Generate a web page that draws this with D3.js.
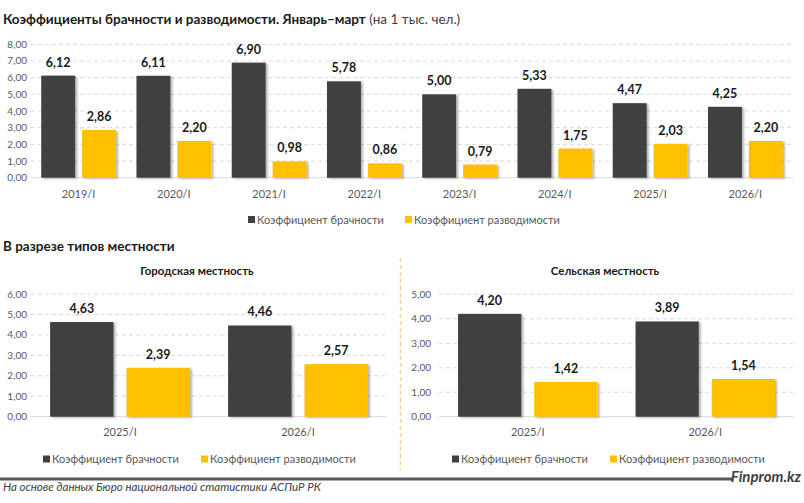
<!DOCTYPE html>
<html><head><meta charset="utf-8">
<script src="https://cdn.jsdelivr.net/npm/d3@7"></script>
<style>
body{margin:0;background:#fff;}
svg{display:block;font-family:Lato,"Open Sans",sans-serif;}
</style></head>
<body><svg id="c" width="804" height="503"></svg>
<script>
const topCategories = ["2019/I","2020/I","2021/I","2022/I","2023/I","2024/I","2025/I","2026/I"];
const topMarriage = [6.12,6.11,6.90,5.78,5.00,5.33,4.47,4.25];
const topDivorce = [2.86,2.20,0.98,0.86,0.79,1.75,2.03,2.20];
const topTicks = [0,1,2,3,4,5,6,7,8];

const urbanCategories = ["2025/I","2026/I"];
const urbanMarriage = [4.63,4.46];
const urbanDivorce = [2.39,2.57];
const urbanTicks = [0,1,2,3,4,5,6];

const ruralCategories = ["2025/I","2026/I"];
const ruralMarriage = [4.20,3.89];
const ruralDivorce = [1.42,1.54];
const ruralTicks = [0,1,2,3,4,5];

const seriesNames = ["Коэффициент брачности","Коэффициент разводимости"];
const colors = ["#404040","#FFC000"];

const svg = d3.select("#c");
const defs = svg.append("defs");
const f = defs.append("filter").attr("id","sh").attr("x","-20%").attr("y","-20%").attr("width","150%").attr("height","140%");
f.append("feDropShadow").attr("dx",2).attr("dy",1).attr("stdDeviation",1.3).attr("flood-color","#000").attr("flood-opacity",0.3);

const fmt = v => d3.format(".2f")(v).replace(".", ",");

function chart(cfg){
  const {cats, m, d, ticks, x0, x1, yTop, yBot, labelX, catY, legY, legX} = cfg;
  const y = d3.scaleLinear().domain([0, d3.max(ticks)]).range([yBot, yTop]);
  const xg = d3.scaleBand().domain(cats).range([x0, x1]).padding(0);
  const xs = d3.scaleBand().domain([0,1]).range([0, xg.bandwidth()]).paddingInner(0.17).paddingOuter(0.25);
  const g = svg.append("g");
  g.selectAll(".gl").data(ticks.filter(t=>t>0)).join("line")
    .attr("x1", x0).attr("x2", x1).attr("y1", t=>y(t)).attr("y2", t=>y(t))
    .attr("stroke","#d9d9d9").attr("stroke-dasharray","4,3").attr("stroke-width",1);
  g.append("line").attr("x1",x0).attr("x2",x1).attr("y1",y(0)).attr("y2",y(0)).attr("stroke","#d9d9d9");
  g.selectAll(".yt").data(ticks).join("text")
    .attr("x", labelX).attr("y", t=>y(t)).attr("dy","0.35em")
    .attr("text-anchor","end").attr("font-size",10).attr("fill","#595959").text(t=>fmt(t));
  const rows = cats.map((c,i)=>[{c,s:0,v:m[i]},{c,s:1,v:d[i]}]).flat();
  g.selectAll(".b").data(rows).join("rect")
    .attr("x", r=>xg(r.c)+xs(r.s)).attr("width", xs.bandwidth())
    .attr("y", r=>y(r.v)).attr("height", r=>y(0)-y(r.v))
    .attr("fill", r=>colors[r.s]).attr("filter","url(#sh)");
  g.selectAll(".vl").data(rows).join("text")
    .attr("x", r=>xg(r.c)+xs(r.s)+xs.bandwidth()/2).attr("y", r=>y(r.v)-9)
    .attr("text-anchor","middle").attr("font-size",12.5).attr("font-weight","bold").attr("fill","#1a1a1a")
    .text(r=>fmt(r.v));
  g.selectAll(".ct").data(cats).join("text")
    .attr("x", c=>xg(c)+xg.bandwidth()/2).attr("y", catY).attr("dy","0.35em")
    .attr("text-anchor","middle").attr("font-size",11).attr("fill","#595959").text(c=>c);
  seriesNames.forEach((n,i)=>{
    g.append("rect").attr("x", legX[i]).attr("y", legY-4).attr("width",7).attr("height",7).attr("fill",colors[i]);
    g.append("text").attr("x", legX[i]+9).attr("y", legY).attr("dy","0.35em")
      .attr("font-size",11).attr("fill","#595959").text(n);
  });
}

const t = svg.append("text").attr("x",3).attr("y",24).attr("font-size",13.5).attr("fill","#1a1a1a");
t.append("tspan").attr("font-weight","bold").text("Коэффициенты брачности и разводимости. Январь–март");
t.append("tspan").attr("fill","#404040").text(" (на 1 тыс. чел.)");

chart({cats:topCategories, m:topMarriage, d:topDivorce, ticks:topTicks, x0:31, x1:793, yTop:44.3, yBot:177.7,
  labelX:27, catY:194, legY:220, legX:[248,405]});

svg.append("text").attr("x",3).attr("y",251).attr("font-size",13.5).attr("font-weight","bold").attr("fill","#1a1a1a")
  .text("В разрезе типов местности");

svg.append("text").attr("x",197).attr("y",275).attr("text-anchor","middle").attr("font-size",11.5).attr("font-weight","bold").attr("fill","#1a1a1a").text("Городская местность");
svg.append("text").attr("x",605).attr("y",275).attr("text-anchor","middle").attr("font-size",11.5).attr("font-weight","bold").attr("fill","#1a1a1a").text("Сельская местность");

chart({cats:urbanCategories, m:urbanMarriage, d:urbanDivorce, ticks:urbanTicks, x0:31, x1:387, yTop:294, yBot:416.7,
  labelX:27, catY:432, legY:459.5, legX:[43,201]});
chart({cats:ruralCategories, m:ruralMarriage, d:ruralDivorce, ticks:ruralTicks, x0:439, x1:794, yTop:294.3, yBot:416.7,
  labelX:431, catY:432.5, legY:459.5, legX:[452,610]});

svg.append("line").attr("x1",400.5).attr("x2",400.5).attr("y1",258).attr("y2",470)
  .attr("stroke","#f2d78a").attr("stroke-width",1.5).attr("stroke-dasharray","4,3");

svg.append("line").attr("x1",0).attr("x2",733).attr("y1",479).attr("y2",479).attr("stroke","#595959").attr("stroke-width",3);
svg.append("text").attr("x",801).attr("y",482).attr("text-anchor","end").attr("font-size",15).attr("font-weight","bold")
  .attr("font-style","italic").attr("fill","#404040").text("Finprom.kz");
svg.append("text").attr("x",3).attr("y",491).attr("font-size",11.5).attr("font-style","italic").attr("fill","#404040")
  .text("На основе данных Бюро национальной статистики АСПиР РК");
</script></body></html>
